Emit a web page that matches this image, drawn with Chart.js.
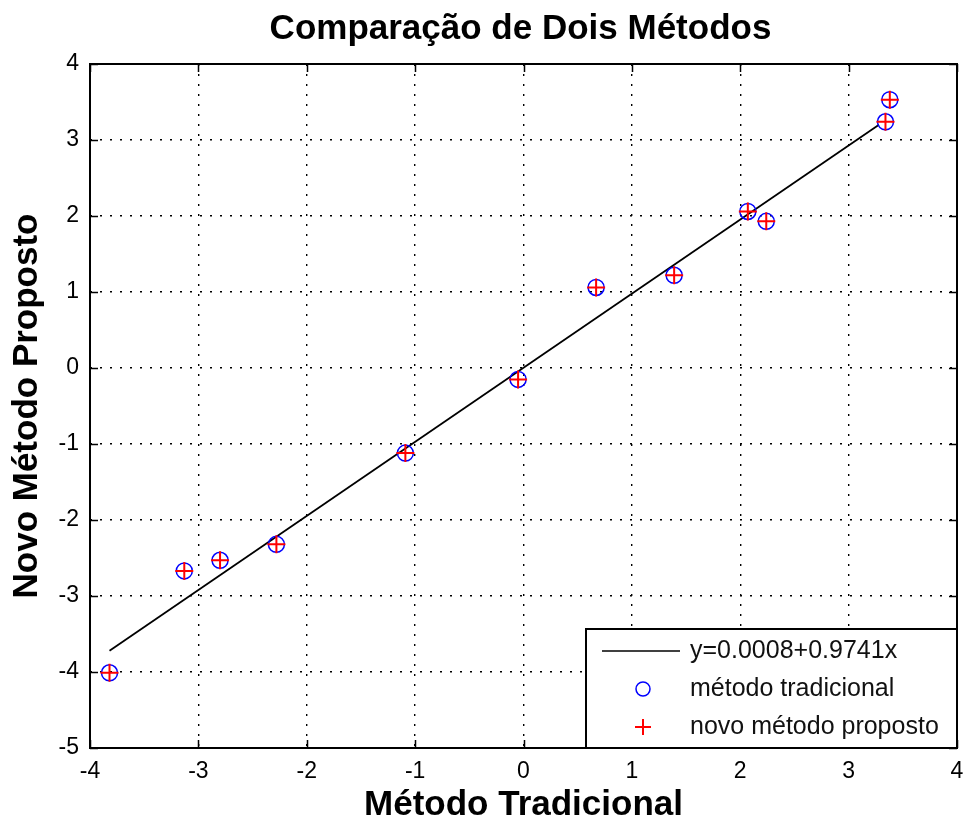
<!DOCTYPE html>
<html lang="pt">
<head>
<meta charset="UTF-8">
<title>Comparação de Dois Métodos</title>
<script src="https://cdn.jsdelivr.net/npm/chart.js@4.4.1/dist/chart.umd.min.js"></script>
<style>
    html, body { margin: 0; padding: 0; background: #fff; }
    #quadro { position: relative; width: 964px; height: 823px; }
</style>
</head>
<body>
<div id="quadro">
    <canvas id="grafico" width="964" height="823"></canvas>
</div>

<script>
    // valores
    var tradicionalX = [-3.82, -3.13, -2.80, -2.28, -1.09, -0.05, 0.67, 1.39, 2.07, 2.24, 3.34, 3.38]
    var tradicionalY = [-4.01, -2.67, -2.53, -2.32, -1.12, -0.15, 1.06, 1.22, 2.06, 1.93, 3.24, 3.53]
    // reta ajustada (extremos)
    var retaX = [-3.82, 3.28]
    var retaY = [-3.72, 3.20]

    var ticksX = [-4, -3, -2, -1, 0, 1, 2, 3, 4]
    var ticksY = [-5, -4, -3, -2, -1, 0, 1, 2, 3, 4]

    var titulo = 'Comparação de Dois Métodos'
    var tituloX = 'Método Tradicional'
    var tituloY = 'Novo Método Proposto'
    var legendas = ['y=0.0008+0.9741x', 'método tradicional', 'novo método proposto']

    var fonte = "'Liberation Sans', Arial, Helvetica, sans-serif"

    function pontos(xs, ys) {
        var lista = []
        for (var i = 0; i < xs.length; i++) {
            lista.push({ x: xs[i], y: ys[i] })
        }
        return lista
    }

    // titulo, moldura, marcas internas e legenda desenhados a mao
    const extras = {
        id: 'extras',
        beforeDraw(chart) {
            const ctx = chart.ctx
            ctx.save()
            ctx.fillStyle = '#fff'
            ctx.fillRect(0, 0, chart.width, chart.height)
            ctx.restore()
        },
        afterDatasetsDraw(chart) {
            const ctx = chart.ctx
            const area = chart.chartArea
            const sx = chart.scales.x
            const sy = chart.scales.y

            ctx.save()
            // titulo
            ctx.fillStyle = '#000'
            ctx.font = 'bold 35px ' + fonte
            ctx.textAlign = 'center'
            ctx.textBaseline = 'middle'
            ctx.fillText(titulo, (area.left + area.right) / 2 - 3, 29)

            // marcas para dentro
            ctx.strokeStyle = '#000'
            ctx.lineWidth = 1.5
            ctx.beginPath()
            ticksX.forEach(function (v) {
                var px = Math.round(sx.getPixelForValue(v)) + 0.5
                ctx.moveTo(px, area.bottom); ctx.lineTo(px, area.bottom - 8)
                ctx.moveTo(px, area.top); ctx.lineTo(px, area.top + 8)
            })
            ticksY.forEach(function (v) {
                var py = Math.round(sy.getPixelForValue(v)) + 0.5
                ctx.moveTo(area.left, py); ctx.lineTo(area.left + 8, py)
                ctx.moveTo(area.right, py); ctx.lineTo(area.right - 8, py)
            })
            ctx.stroke()

            // legenda
            var larg = 371, alt = 119
            var lx = area.right - larg, ly = area.bottom - alt
            ctx.fillStyle = '#fff'
            ctx.fillRect(lx, ly, larg, alt)
            ctx.lineWidth = 2
            ctx.strokeRect(lx, ly, larg, alt)

            var yLinhas = [ly + 22, ly + 60, ly + 98]
            ctx.lineWidth = 1.5
            ctx.beginPath()
            ctx.moveTo(lx + 16, yLinhas[0]); ctx.lineTo(lx + 94, yLinhas[0])
            ctx.stroke()

            ctx.strokeStyle = '#0000ff'
            ctx.beginPath()
            ctx.arc(lx + 57, yLinhas[1], 7, 0, Math.PI * 2)
            ctx.stroke()

            ctx.strokeStyle = '#ff0000'
            ctx.lineWidth = 2
            ctx.beginPath()
            ctx.moveTo(lx + 49, yLinhas[2]); ctx.lineTo(lx + 65, yLinhas[2])
            ctx.moveTo(lx + 57, yLinhas[2] - 8); ctx.lineTo(lx + 57, yLinhas[2] + 8)
            ctx.stroke()

            ctx.fillStyle = '#111'
            ctx.font = '25px ' + fonte
            ctx.textAlign = 'left'
            ctx.textBaseline = 'middle'
            legendas.forEach(function (t, i) {
                ctx.fillText(t, lx + 104, yLinhas[i])
            })

            // moldura
            ctx.strokeStyle = '#000'
            ctx.lineWidth = 2
            ctx.strokeRect(area.left, area.top, area.right - area.left, area.bottom - area.top)
            ctx.restore()
        }
    }

    const config = {
        type: 'scatter',
        data: {
            datasets: [
                {
                    label: legendas[2],
                    data: pontos(tradicionalX, tradicionalY),
                    pointStyle: 'cross',
                    pointRadius: 9,
                    pointBorderWidth: 2,
                    borderColor: '#ff0000',
                    backgroundColor: '#ff0000',
                    order: 0
                },
                {
                    label: legendas[1],
                    data: pontos(tradicionalX, tradicionalY),
                    pointStyle: 'circle',
                    pointRadius: 8,
                    pointBorderWidth: 1.5,
                    borderColor: '#0000ff',
                    backgroundColor: 'rgba(0,0,0,0)',
                    order: 1
                },
                {
                    label: legendas[0],
                    data: pontos(retaX, retaY),
                    showLine: true,
                    pointRadius: 0,
                    borderColor: '#000',
                    borderWidth: 1.8,
                    order: 2
                }
            ]
        },
        options: {
            responsive: false,
            animation: false,
            events: [],
            layout: { autoPadding: false, padding: { top: 64, right: 7, left: 0, bottom: 0 } },
            plugins: {
                legend: { display: false },
                title: { display: false },
                tooltip: { enabled: false }
            },
            scales: {
                x: {
                    type: 'linear',
                    min: -4,
                    max: 4,
                    afterFit: function (s) { s.height = 75; s.paddingLeft = 0; s.paddingRight = 0 },
                    afterBuildTicks: function (s) { s.ticks = ticksX.map(function (v) { return { value: v } }) },
                    grid: { color: '#000', lineWidth: 1.4, drawTicks: false },
                    border: { display: false, dash: [2, 8] },
                    ticks: { color: '#000', font: { family: fonte, size: 23 }, padding: 10, maxRotation: 0 },
                    title: {
                        display: true,
                        text: tituloX,
                        color: '#000',
                        font: { family: fonte, size: 35, weight: 'bold', lineHeight: 1 },
                        padding: { top: 0, bottom: 0 }
                    }
                },
                y: {
                    type: 'linear',
                    min: -5,
                    max: 4,
                    afterFit: function (s) { s.width = 90; s.paddingTop = 0; s.paddingBottom = 0 },
                    afterBuildTicks: function (s) { s.ticks = ticksY.map(function (v) { return { value: v } }) },
                    grid: { color: '#000', lineWidth: 1.4, drawTicks: false },
                    border: { display: false, dash: [2, 8] },
                    ticks: { color: '#000', font: { family: fonte, size: 23 }, padding: 11 },
                    title: {
                        display: true,
                        text: tituloY,
                        color: '#000',
                        font: { family: fonte, size: 35, weight: 'bold', lineHeight: 1 },
                        padding: { top: 10, bottom: 10 }
                    }
                }
            }
        },
        plugins: [extras]
    }

    const grafico = new Chart(document.getElementById('grafico'), config)
</script>
</body>
</html>
